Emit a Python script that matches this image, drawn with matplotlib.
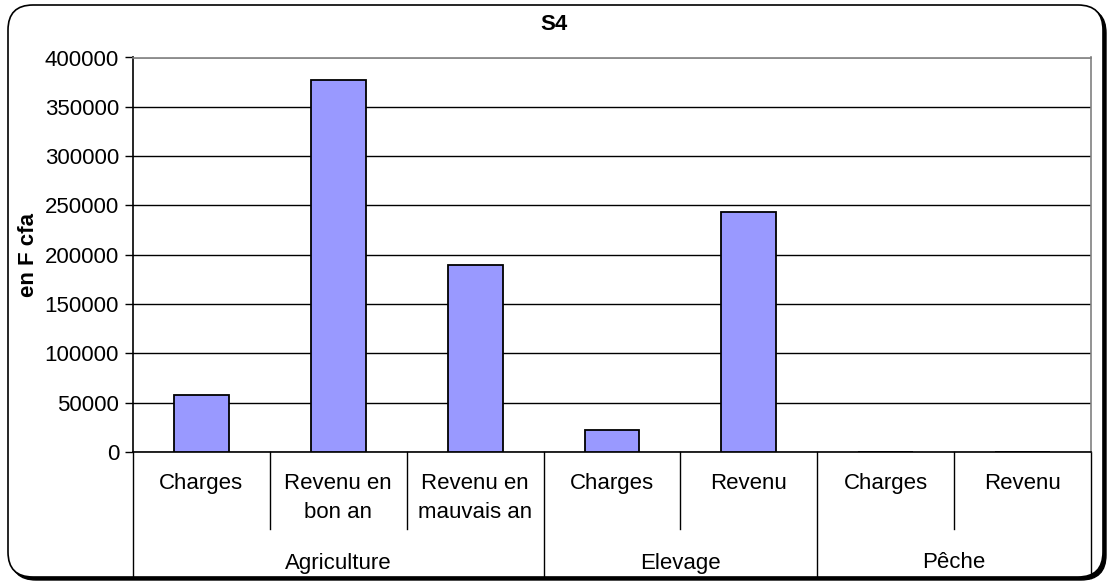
import numpy as np
import matplotlib
matplotlib.use("Agg")
from matplotlib import pyplot as plt
from matplotlib.patches import FancyBboxPatch
from matplotlib.transforms import blended_transform_factory

plt.rcParams['font.family'] = ['Liberation Sans', 'DejaVu Sans']

# data
groups = ["Agriculture", "Elevage", "Pêche"]
group_sizes = [3, 2, 2]
sub_labels = ["Charges", "Revenu en\nbon an", "Revenu en\nmauvais an",
              "Charges", "Revenu", "Charges", "Revenu"]
values = [58000, 377000, 190000, 22000, 243000, 0, 0]
yticks = [0, 50000, 100000, 150000, 200000, 250000, 300000, 350000, 400000]

W, H = 1109, 585
FS = 16
fig = plt.figure(figsize=(W / 100, H / 100), dpi=100)

# chart frame with shadow (pixel coords)
shadow = FancyBboxPatch((8 + 3, 5 - 3 + 3), 1095, 575 - 3,
                        boxstyle="round,pad=0,rounding_size=25",
                        transform=None, facecolor="black", edgecolor="black", lw=1,
                        zorder=-10)
frame = FancyBboxPatch((8, 5 + 3), 1095, 575 - 3,
                       boxstyle="round,pad=0,rounding_size=25",
                       transform=None, facecolor="white", edgecolor="black", lw=1.2,
                       zorder=-9)
fig.add_artist(shadow)
fig.add_artist(frame)

left, right, top, bottom = 133, 1091, 57.5, 452
ax = fig.add_axes([left / W, (H - bottom) / H, (right - left) / W, (bottom - top) / H])
ax.set_facecolor("white")

x = np.arange(len(values))
ax.bar(x, values, width=0.4, color="#9999FF", edgecolor="black", lw=1.3, zorder=3)

ax.set_xlim(-0.5, len(values) - 0.5)
ax.set_ylim(0, 400000)
ax.set_yticks(yticks)
ax.set_yticklabels([str(v) for v in yticks], fontsize=FS)
ax.yaxis.grid(True, color="black", lw=1)
ax.set_axisbelow(True)
ax.tick_params(axis="y", direction="out", length=6, width=1, pad=4)
ax.set_xticks([])

ax.spines["left"].set_color("black")
ax.spines["bottom"].set_color("black")
ax.spines["top"].set_color("#808080")
ax.spines["right"].set_color("#808080")
for s in ax.spines.values():
    s.set_linewidth(1.2)

ax.set_ylabel("en F cfa", fontsize=FS, fontweight="bold")
ax.yaxis.set_label_coords(-(133 - 39) / (right - left), 0.5)

trans = blended_transform_factory(ax.transData, ax.transAxes)
ph = bottom - top
sub_end = -(529 - bottom) / ph
grp_end = -(578 - bottom) / ph

# separators between categories
bounds = np.cumsum([0] + group_sizes) - 0.5
for i in range(len(values) + 1):
    xs = i - 0.5
    y_end = grp_end if xs in bounds else sub_end
    ax.plot([xs, xs], [0, y_end], color="black", lw=1, transform=trans, clip_on=False)

# category labels
for i, lab in enumerate(sub_labels):
    ax.text(i, -(473 - bottom) / ph, lab, transform=trans, ha="center", va="top",
            fontsize=FS, linespacing=1.5)

# group labels
start = 0
for g, n in zip(groups, group_sizes):
    ax.text(start + (n - 1) / 2, -(563 - bottom) / ph, g, transform=trans,
            ha="center", va="center", fontsize=FS)
    start += n

fig.text(554 / W, 1 - 24 / H, "S4", ha="center", va="center", fontsize=FS, fontweight="bold")

fig.savefig("out.png", dpi=100)
